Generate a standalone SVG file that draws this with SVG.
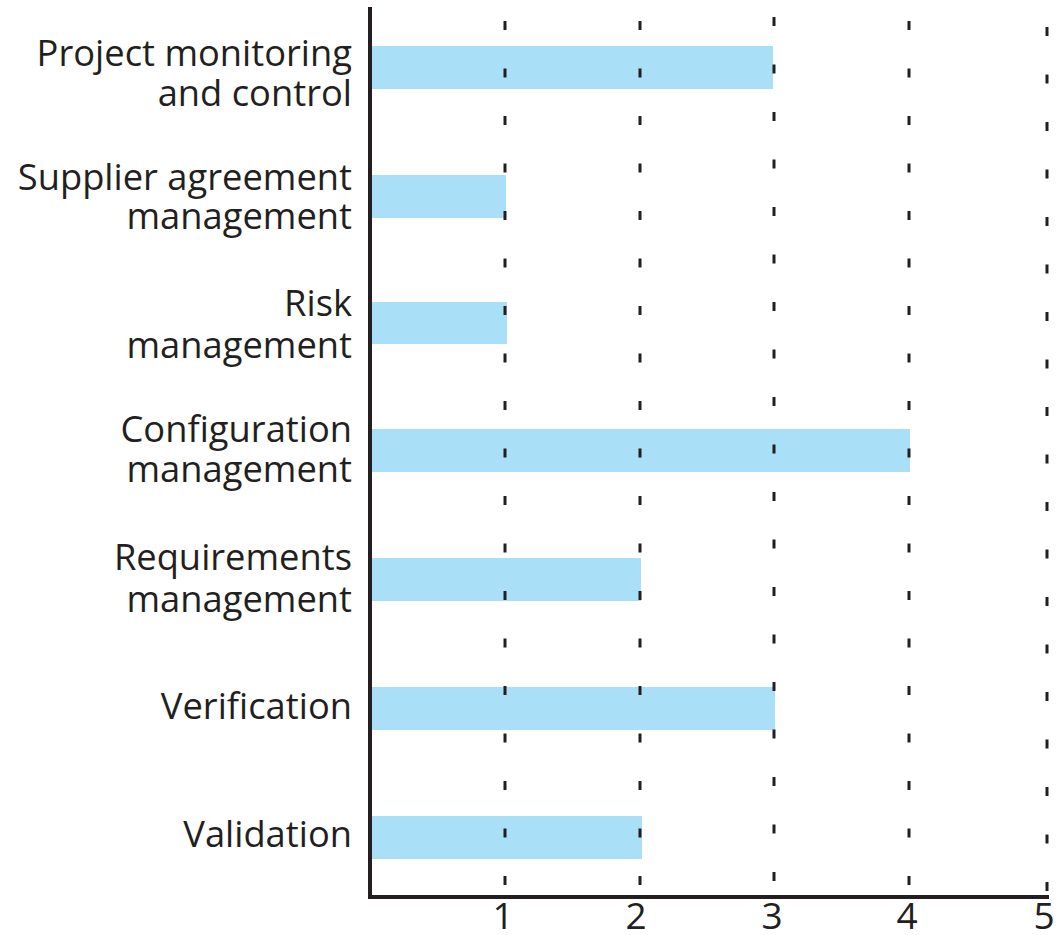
<svg xmlns="http://www.w3.org/2000/svg" width="1057" height="935" viewBox="0 0 1057 935">
<style>
.lbl{font-family:"Open Sans","Liberation Sans",sans-serif;font-size:36.3px;fill:#231f20;text-anchor:end}
.num{font-family:"Open Sans","Liberation Sans",sans-serif;font-size:37px;fill:#231f20;text-anchor:middle}
.bar{fill:#aadff8}
.grid{stroke:#231f20;stroke-width:3;stroke-dasharray:9 38.5;fill:none}
.axis{stroke:#231f20;stroke-width:4;fill:none}
</style>
<g id="bars">
<rect class="bar" x="370" y="46" width="403" height="43"/>
<rect class="bar" x="370" y="175" width="136" height="43"/>
<rect class="bar" x="370" y="302" width="137" height="42"/>
<rect class="bar" x="370" y="429" width="540" height="43"/>
<rect class="bar" x="370" y="558" width="271" height="43"/>
<rect class="bar" x="370" y="687" width="405" height="43"/>
<rect class="bar" x="370" y="816" width="272" height="43"/>
</g>
<g id="grid">
<line class="grid" x1="505" y1="21" x2="505" y2="896"/>
<line class="grid" x1="640" y1="21" x2="640" y2="896"/>
<line class="grid" x1="774" y1="17" x2="774" y2="896"/>
<line class="grid" x1="909" y1="21" x2="909" y2="896"/>
<line class="grid" x1="1047" y1="27" x2="1047" y2="896"/>
</g>
<g id="axes">
<line class="axis" x1="370" y1="7" x2="370" y2="899"/>
<line class="axis" x1="368" y1="897" x2="1049" y2="897"/>
</g>
<g id="labels">
<text class="lbl" x="352" y="66">Project monitoring</text>
<text class="lbl" x="352" y="106">and control</text>
<text class="lbl" x="352" y="190">Supplier agreement</text>
<text class="lbl" x="352" y="229">management</text>
<text class="lbl" x="352" y="316">Risk</text>
<text class="lbl" x="352" y="358">management</text>
<text class="lbl" x="352" y="442">Configuration</text>
<text class="lbl" x="352" y="482">management</text>
<text class="lbl" x="352" y="570">Requirements</text>
<text class="lbl" x="352" y="612">management</text>
<text class="lbl" x="352" y="719">Verification</text>
<text class="lbl" x="352" y="847">Validation</text>
</g>
<g id="ticks">
<text class="num" x="503" y="929">1</text>
<text class="num" x="636" y="929">2</text>
<text class="num" x="772" y="929">3</text>
<text class="num" x="907" y="929">4</text>
<text class="num" x="1044" y="929">5</text>
</g>
</svg>
